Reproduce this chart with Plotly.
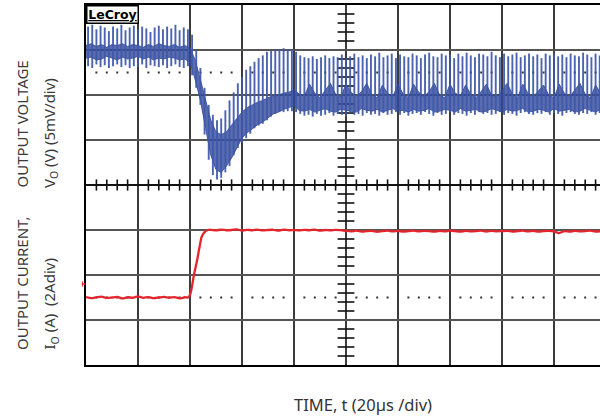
import plotly.graph_objects as go

# ---- scope settings ----
TIME_PER_DIV = 20      # µs / div
MV_PER_DIV = 5         # mV / div
A_PER_DIV = 2          # A / div
SPIKE_T0 = 0.8         # µs, first switching spike
SPIKE_PERIOD = 1.6     # µs between switching spikes
CORE_STEP = 2.0        # µs between ripple-band samples
V_OFFSET_DIV = 2.0     # 0 mV reference position (div above centre)
I_OFFSET_DIV = -2.5    # 0 A reference position (div above centre)

# ---- output voltage: switching spikes (mV) ----
v_top = [7.6, 7.8, 7.3, 7.7, 7.5, 7.1, 7.6, 7.4, 7.8, 7.2, 7.5, 7.7, 7.3, 7.6, 7.4, 7.0, 7.5, 7.7, 7.3, 7.6,
         7.4, 7.8, 7.2, 7.5, 7.3,
         6.7, 5.0, 3.0, 0.8, -1.1, -2.2, -2.8, -2.6, -1.7, -0.6, 0.3, 1.3, 2.0, 2.8, 3.2, 3.7, 4.1, 4.4, 4.8,
         4.9, 5.0, 5.1, 5.2, 5.1, 5.1, 4.8, 4.4,
         4.2, 4.1, 4.3, 4.0, 4.2, 4.4, 4.1, 4.3, 4.2, 4.5, 4.1, 4.3, 4.6, 4.2, 4.4, 4.1, 4.5, 4.3, 4.7, 4.2,
         4.4, 4.6, 4.1, 4.5, 4.3, 4.2, 4.6, 4.4, 4.1, 4.5, 4.7, 4.3, 4.2, 4.6, 4.4, 4.5, 4.1, 4.6, 4.3, 4.7,
         4.4, 4.2, 4.6, 4.5, 4.3, 4.8, 4.4, 4.2, 4.6, 4.3, 4.5, 4.7, 4.2, 4.4, 4.6, 4.3, 4.5, 4.1, 4.6, 4.4,
         4.7, 4.3, 4.5, 4.2, 4.6, 4.4, 4.3, 4.7, 4.5, 4.2, 4.6, 4.4]
v_bot = [3.2, 3.0, 3.4, 3.1, 3.3, 3.0, 3.2, 3.4, 3.1, 3.3, 3.0, 3.2, 3.1, 3.4, 3.0, 3.3, 3.2, 3.1, 3.3, 3.0,
         3.2, 3.4, 3.1, 3.0, 3.2,
         2.2, 0.8, -1.1, -4.4, -7.2, -8.9, -9.4, -9.2, -8.6, -7.9, -6.7, -5.9, -5.3, -4.8, -4.3, -3.7, -3.4,
         -3.2, -2.8, -2.4, -2.1, -1.9, -1.9, -1.8, -1.8, -1.9, -2.1,
         -2.3, -2.2, -2.4, -2.1, -2.3, -2.2, -2.0, -2.3, -2.1, -2.2, -2.4, -2.0, -2.2, -2.1, -2.3, -2.0, -2.2,
         -2.1, -2.3, -2.0, -2.2, -2.1, -1.9, -2.2, -2.0, -2.3, -2.1, -2.0, -2.2, -1.9, -2.1, -2.3, -2.0, -2.2,
         -2.1, -1.9, -2.2, -2.0, -2.1, -2.3, -2.0, -2.2, -1.9, -2.1, -2.0, -2.2, -2.1, -1.9, -2.2, -2.0, -2.1,
         -2.3, -2.0, -1.9, -2.1, -2.2, -2.0, -2.1, -1.9, -2.2, -2.0, -2.1, -2.3, -2.0, -1.9, -2.1, -2.2, -2.0,
         -2.1, -1.9, -2.2, -2.0]

# ---- output voltage: dense ripple band (mV), every CORE_STEP µs ----
core_hi = [5.5, 5.7, 5.4, 5.6, 5.3, 5.6, 5.5, 5.7, 5.4, 5.6, 5.5, 5.3, 5.6, 5.4, 5.7, 5.5, 5.4, 5.6, 5.3, 5.5,
           5.2, 3.9, 1.7, -0.6, -2.8, -4.1, -4.4, -4.1, -3.3, -2.6, -1.9, -1.4, -1.1, -0.8, -0.6, -0.3, -0.1,
           0.0, 0.2, 0.3, 0.6, 0.1,
           -0.1, 1.2, 0.2, -0.3, 0.5, 1.3, 0.1, -0.2, 1.2, 0.3, -0.2, 0.4, 1.3, 0.0, -0.3, 1.1, 0.2, -0.2,
           1.2, 0.1, -0.3, 1.2, 0.3, -0.2, 0.4, 1.3, 0.0, -0.3, 1.2, 0.2, -0.1, 1.1, 0.1, -0.3, 0.4, 1.2,
           0.0, -0.2, 0.5, 1.3, 0.1, -0.3, 1.2, 0.2, -0.2, 0.4, 1.1, 0.0, -0.3, 1.2, 0.2, -0.2, 0.5, 1.3,
           0.1, -0.3, 1.1, 0.2]
core_lo = [4.1, 4.2, 3.9, 4.0, 4.3, 4.1, 3.9, 4.2, 4.0, 4.1, 4.3, 4.0, 4.2, 3.9, 4.1, 4.0, 4.2, 4.1, 3.9, 4.0,
           3.6, 1.7, -0.6, -3.7, -6.7, -8.3, -8.6, -7.9, -7.0, -5.9, -4.8, -4.2, -3.7, -3.3, -3.0, -2.6, -2.1,
           -1.9, -1.6, -1.4, -1.2, -1.7,
           -1.8, -1.6, -1.9, -1.7, -1.5, -1.8, -1.9, -1.6, -1.7, -1.8, -1.9, -1.5, -1.7, -1.8, -1.6, -1.9,
           -1.7, -1.5, -1.8, -1.7, -1.9, -1.6, -1.8, -1.7, -1.5, -1.9, -1.8, -1.6, -1.7, -1.9, -1.5, -1.8,
           -1.7, -1.6, -1.9, -1.8, -1.5, -1.7, -1.9, -1.6, -1.8, -1.7, -1.5, -1.9, -1.8, -1.6, -1.7, -1.9,
           -1.5, -1.8, -1.7, -1.6, -1.9, -1.8, -1.5, -1.7, -1.9, -1.6]

# ---- output current (A) ----
t_cur = list(range(0, 39, 2)) + [39.2, 40.0, 40.65, 41.5, 42.6, 43.6, 44.5, 45.8, 46.9] + list(range(48, 199, 2))
i_cur = [0.02, -0.03, 0.01, 0.04, -0.02, 0.00, 0.03, -0.04, 0.01, -0.01, 0.05, -0.02, 0.02, -0.03, 0.00,
         0.03, -0.01, 0.02, -0.04, 0.01,
         0.0, 0.11, 0.42, 1.0, 1.58, 2.2, 2.7, 2.93, 3.0,
         3.01, 2.98, 3.02, 2.99, 3.00, 3.03, 2.97, 3.01, 2.99, 3.02, 2.98, 3.00, 3.01, 2.97, 3.02, 2.99,
         3.00, 2.98, 3.01, 2.99, 3.02, 2.97, 3.00, 2.98, 3.01, 2.99,
         2.96, 2.94, 2.97, 2.93, 2.95, 2.96, 2.92, 2.95, 2.97, 2.94, 2.96, 2.93, 2.95, 2.97, 2.94, 2.96,
         2.95, 2.93, 2.96, 2.94, 2.97, 2.95, 2.93, 2.96, 2.94, 2.95, 2.97, 2.93, 2.96, 2.94, 2.95, 2.96,
         2.93, 2.95, 2.97, 2.94, 2.96, 2.93, 2.95, 2.96, 2.94, 2.86, 2.95, 2.93, 2.96, 2.94, 2.95, 2.97,
         2.93, 2.95]

# ---- text ----
x_title = "TIME, t (20µs /div)"
v_label1 = "OUTPUT VOLTAGE"
v_label2 = "V<sub>O</sub> (V) (5mV/div)"
i_label1 = "OUTPUT CURRENT,"
i_label2 = "I<sub>O</sub> (A)  (2Adiv)"
logo = "<b><u>LeCroy</u></b>"


def vdiv(v):
    return V_OFFSET_DIV + v / MV_PER_DIV


def idiv(i):
    return I_OFFSET_DIV + i / A_PER_DIV


N_XDIV, N_YDIV, SUB = 10, 8, 5
X_MAX = 197.7
t_max = N_XDIV * TIME_PER_DIV
t_center = t_max / 2

fig = go.Figure()

# reference dots and centre-axis ticks (graticule decoration)
sub_t = [k * TIME_PER_DIV / SUB for k in range(1, N_XDIV * SUB) if k % SUB]
sub_y = [k / SUB for k in range(-N_YDIV // 2 * SUB + 1, N_YDIV // 2 * SUB) if k % SUB]
fig.add_trace(go.Scatter(x=sub_t * 2, y=[2.5] * len(sub_t) + [-2.5] * len(sub_t), mode="markers",
                         marker=dict(symbol="square", size=2, color="#333"), hoverinfo="skip"))
fig.add_trace(go.Scatter(x=sub_t, y=[0] * len(sub_t), mode="markers",
                         marker=dict(symbol="line-ns", size=8, line=dict(width=1.6, color="#111")),
                         hoverinfo="skip"))
fig.add_trace(go.Scatter(x=[t_center] * len(sub_y), y=sub_y, mode="markers",
                         marker=dict(symbol="line-ew", size=12, line=dict(width=1.6, color="#111")),
                         hoverinfo="skip"))

# voltage ripple band
t_core = [CORE_STEP * i for i in range(len(core_hi))]
fig.add_trace(go.Scatter(x=t_core, y=[vdiv(v) for v in core_lo], mode="lines",
                         line=dict(color="rgba(50,72,155,0.85)", width=1), hoverinfo="skip"))
fig.add_trace(go.Scatter(x=t_core, y=[vdiv(v) for v in core_hi], mode="lines", fill="tonexty",
                         fillcolor="rgba(50,72,155,0.8)", line=dict(color="rgba(50,72,155,0.85)", width=1),
                         hoverinfo="skip"))

# voltage spikes
t_sp = [SPIKE_T0 + SPIKE_PERIOD * k for k in range(len(v_top))]
sx, sy = [], []
for t, lo, hi in zip(t_sp, v_bot, v_top):
    sx += [t, t, None]
    sy += [vdiv(lo), vdiv(hi), None]
fig.add_trace(go.Scatter(x=sx, y=sy, mode="lines", line=dict(color="rgba(62,88,170,0.93)", width=1.9),
                         hoverinfo="skip"))

# output current
fig.add_trace(go.Scatter(x=t_cur, y=[idiv(i) for i in i_cur], mode="lines", line_shape="spline",
                         line=dict(color="#e4262c", width=2.3, smoothing=0.6), hoverinfo="skip"))

shapes = [
    dict(type="line", xref="x", yref="y", x0=t_center, x1=t_center, y0=-4, y1=4,
         line=dict(color="#111", width=2), layer="below"),
    dict(type="line", xref="paper", yref="y", x0=-0.008, x1=-0.001, y0=-2.2, y1=-2.2,
         line=dict(color="#e4262c", width=1.5)),
    dict(type="line", xref="paper", yref="y", x0=-0.007, x1=-0.007, y0=-2.26, y1=-2.14,
         line=dict(color="#e4262c", width=1)),
]

lab_font = dict(family="Noto Sans, DejaVu Sans, sans-serif", size=15, color="#3a3a3a")
ann = [
    dict(text=v_label1, x=-0.1245, y=0.486, xref="paper", yref="paper", textangle=-90,
         xanchor="center", yanchor="bottom", showarrow=False, font=lab_font),
    dict(text=v_label2, x=-0.070, y=0.486, xref="paper", yref="paper", textangle=-90,
         xanchor="center", yanchor="bottom", showarrow=False, font=lab_font),
    dict(text=i_label1, x=-0.1245, y=0.036, xref="paper", yref="paper", textangle=-90,
         xanchor="center", yanchor="bottom", showarrow=False, font=lab_font),
    dict(text=i_label2, x=-0.070, y=0.036, xref="paper", yref="paper", textangle=-90,
         xanchor="center", yanchor="bottom", showarrow=False, font=lab_font),
    dict(text=x_title, x=0.539, y=-0.111, xref="paper", yref="paper", xanchor="center",
         yanchor="middle", showarrow=False,
         font=dict(family="Noto Sans, DejaVu Sans, sans-serif", size=16.5, color="#333")),
    dict(text=logo, x=0, y=1, xref="paper", yref="paper", xanchor="left", yanchor="top",
         showarrow=False, bgcolor="white", bordercolor="black", borderwidth=1.5, borderpad=0,
         width=50, height=16,
         font=dict(family="DejaVu Sans, sans-serif", size=12.5, color="black")),
]

fig.update_layout(
    width=600, height=419,
    margin=dict(l=86, r=0, t=5, b=54),
    paper_bgcolor="white", plot_bgcolor="white",
    showlegend=False,
    shapes=shapes, annotations=ann,
    xaxis=dict(range=[0, X_MAX], dtick=TIME_PER_DIV, tick0=0, showgrid=True, gridcolor="#3c3c3c",
               gridwidth=1.6, zeroline=False, showticklabels=False, ticks="",
               showline=True, mirror=True, linecolor="black", linewidth=2, fixedrange=True),
    yaxis=dict(range=[-4, 4], dtick=1, tick0=0, showgrid=True, gridcolor="#555",
               gridwidth=1.6, zeroline=True, zerolinecolor="#111", zerolinewidth=2,
               showticklabels=False, ticks="", showline=True, mirror=False,
               linecolor="black", linewidth=2, fixedrange=True),
)

fig.write_html("out.html", config={"displayModeBar": False},
               post_script="document.body.style.margin='0';")
